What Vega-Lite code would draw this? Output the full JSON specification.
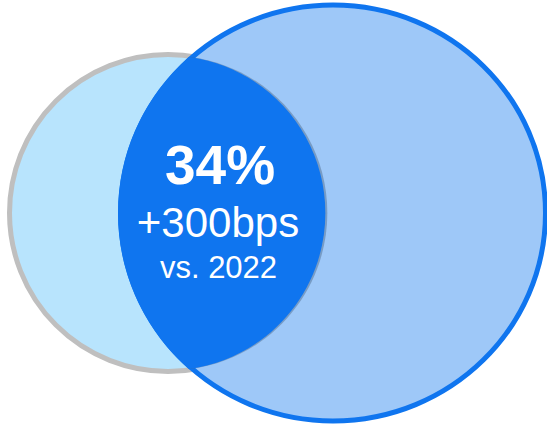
{
  "$schema": "https://vega.github.io/schema/vega-lite/v6.json",
  "width": 547,
  "height": 424,
  "padding": 0,
  "autosize": {"type": "none"},
  "background": "white",
  "config": {"view": {"stroke": null}},
  "datasets": {
    "shapes": [
      {"set": "2022", "cx": 168, "cy": 213},
      {"set": "2023", "cx": 333, "cy": 213},
      {"set": "overlap", "cx": 168, "cy": 213}
    ],
    "labels": [
      {"role": "value", "text": "34%", "cx": 220, "cy": 184},
      {"role": "change", "text": "+300bps", "cx": 218, "cy": 237},
      {"role": "basis", "text": "vs. 2022", "cx": 218.5, "cy": 278}
    ]
  },
  "encoding": {
    "x": {"field": "cx", "type": "quantitative", "scale": {"domain": [0, 547]}, "axis": null},
    "y": {"field": "cy", "type": "quantitative", "scale": {"domain": [0, 424], "reverse": true}, "axis": null}
  },
  "layer": [
    {
      "data": {"name": "shapes"},
      "transform": [{"filter": "datum.set === '2022'"}],
      "mark": {"type": "point", "shape": "circle", "size": 100489, "filled": true, "fill": "#b8e4fd", "stroke": "#bfbfbf", "strokeWidth": 5, "opacity": 1}
    },
    {
      "data": {"name": "shapes"},
      "transform": [{"filter": "datum.set === '2023'"}],
      "mark": {"type": "point", "shape": "M -2.125 0 A 2.125 2.08 0 1 1 2.125 0 A 2.125 2.08 0 1 1 -2.125 0 Z", "size": 40000, "filled": true, "fill": "#9ec8f8", "stroke": "#0f75ef", "strokeWidth": 5, "opacity": 1}
    },
    {
      "data": {"name": "shapes"},
      "transform": [{"filter": "datum.set === 'overlap'"}],
      "mark": {"type": "point", "shape": "M 0.208 -1.561 A 1.575 1.575 0 0 1 0.208 1.561 A 2.15 2.105 0 0 1 0.208 -1.561 Z", "size": 40000, "filled": true, "fill": "#4a6688", "opacity": 0.45, "xOffset": 2}
    },
    {
      "data": {"name": "shapes"},
      "transform": [{"filter": "datum.set === 'overlap'"}],
      "mark": {"type": "point", "shape": "M 0.208 -1.561 A 1.575 1.575 0 0 1 0.208 1.561 A 2.15 2.105 0 0 1 0.208 -1.561 Z", "size": 40000, "filled": true, "fill": "#0f75ef", "opacity": 1}
    },
    {
      "data": {"name": "labels"},
      "transform": [{"filter": "datum.role === 'value'"}],
      "mark": {"type": "text", "font": "Liberation Sans", "fontSize": 55, "fontWeight": "bold", "fill": "white", "align": "center", "baseline": "alphabetic"},
      "encoding": {"text": {"field": "text"}}
    },
    {
      "data": {"name": "labels"},
      "transform": [{"filter": "datum.role === 'change'"}],
      "mark": {"type": "text", "font": "Liberation Sans", "fontSize": 42, "fill": "white", "align": "center", "baseline": "alphabetic"},
      "encoding": {"text": {"field": "text"}}
    },
    {
      "data": {"name": "labels"},
      "transform": [{"filter": "datum.role === 'basis'"}],
      "mark": {"type": "text", "font": "Liberation Sans", "fontSize": 31, "fill": "white", "align": "center", "baseline": "alphabetic"},
      "encoding": {"text": {"field": "text"}}
    }
  ]
}
